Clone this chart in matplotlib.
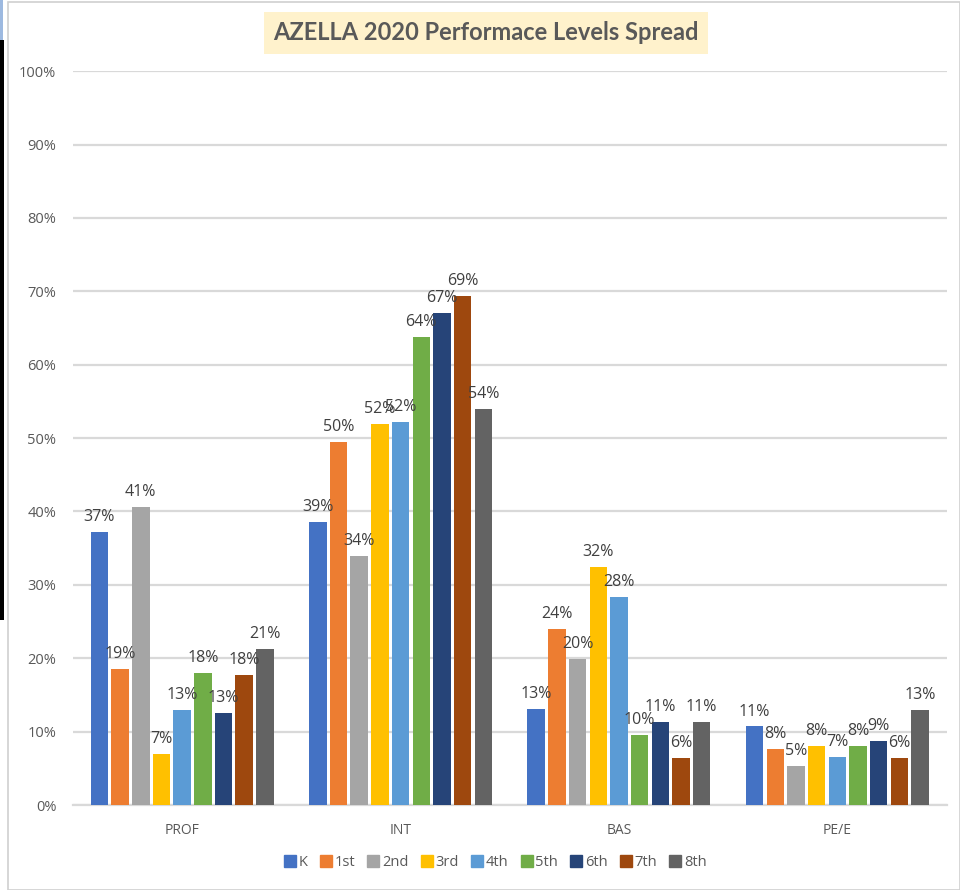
import matplotlib
matplotlib.use("Agg")
import matplotlib.pyplot as plt
import numpy as np
from matplotlib.patches import Rectangle
from matplotlib.lines import Line2D

# ---------------------------------------------------------------------------
# data
levels = ["PROF", "INT", "BAS", "PE/E"]
grades = ["K", "1st", "2nd", "3rd", "4th", "5th", "6th", "7th", "8th"]

k_vals = [0.372, 0.386, 0.131, 0.107]
g1_vals = [0.186, 0.495, 0.240, 0.076]
g2_vals = [0.406, 0.339, 0.199, 0.053]
g3_vals = [0.069, 0.519, 0.325, 0.081]
g4_vals = [0.129, 0.522, 0.284, 0.066]
g5_vals = [0.180, 0.638, 0.096, 0.081]
g6_vals = [0.126, 0.671, 0.113, 0.087]
g7_vals = [0.177, 0.694, 0.064, 0.064]
g8_vals = [0.213, 0.540, 0.113, 0.130]

series = [k_vals, g1_vals, g2_vals, g3_vals, g4_vals,
          g5_vals, g6_vals, g7_vals, g8_vals]

colors = ["#4472C4", "#ED7D31", "#A5A5A5", "#FFC000", "#5B9BD5",
          "#70AD47", "#264478", "#9E480E", "#636363"]

# ---------------------------------------------------------------------------
plt.rcParams["font.family"] = ["Open Sans", "DejaVu Sans"]
txt_col = "#595959"

fig = plt.figure(figsize=(9.6, 8.9), dpi=100)
ax = fig.add_axes([0.076, 0.0955, 0.910, 0.8245])

x = np.arange(len(levels))
step = 0.0947
width = 0.08

for i, (vals, col) in enumerate(zip(series, colors)):
    pos = x + (i - 4) * step
    ax.bar(pos, vals, width=width, color=col, zorder=3)
    for px, v in zip(pos, vals):
        ax.annotate("{:.0f}%".format(round(v * 100)), (px, v),
                    xytext=(0, 5), textcoords="offset points",
                    ha="center", va="bottom", fontsize=11.5,
                    color="#404040", zorder=4)

ax.set_xlim(-0.5, 3.5)
ax.set_ylim(0, 1.0)
ticks = np.arange(0, 1.01, 0.1)
ax.set_yticks(ticks)
ax.set_yticklabels(["{:d}%".format(int(round(t * 100))) for t in ticks])
ax.set_xticks(x)
ax.set_xticklabels(levels)
ax.tick_params(axis="both", length=0, labelcolor=txt_col)
ax.tick_params(axis="y", pad=12, labelsize=10.5)
ax.tick_params(axis="x", pad=13, labelsize=10)
ax.grid(axis="y", color="#d9d9d9", linewidth=1.6, zorder=0)
for s in ["top", "right", "left"]:
    ax.spines[s].set_visible(False)
ax.spines["bottom"].set_color("#d9d9d9")
ax.spines["bottom"].set_linewidth(1.6)

# title with pale yellow box
fig.text(0.506, 0.963, "AZELLA 2020 Performace Levels Spread",
         ha="center", va="center", fontsize=17, fontweight="bold",
         color=txt_col, family=["Lato", "DejaVu Sans"],
         bbox=dict(boxstyle="square,pad=0.4", facecolor="#FFF2CC",
                   edgecolor="none"))

# legend
handles = [Line2D([], [], marker="s", linestyle="none", markersize=8,
                  markerfacecolor=c, markeredgecolor=c) for c in colors]
fig.legend(handles, grades, loc="center", bbox_to_anchor=(0.516, 0.031),
           ncol=9, frameon=False, fontsize=10.5, labelcolor=txt_col,
           handlelength=0.8, handletextpad=0.2, columnspacing=0.85)

# screenshot frame bits on the left and top
fig.add_artist(Rectangle((8 / 960, 0), 1 - 8 / 960, 1 - 2 / 890,
                         transform=fig.transFigure, fill=False,
                         edgecolor="#d0d0d0", linewidth=1.2))
fig.add_artist(Rectangle((0, 1 - 620 / 890), 4 / 960, 580 / 890,
                         transform=fig.transFigure, facecolor="black",
                         edgecolor="none"))
fig.add_artist(Rectangle((0, 1 - 40 / 890), 3 / 960, 40 / 890,
                         transform=fig.transFigure, facecolor="#9DB9E0",
                         edgecolor="none"))

fig.savefig("out.png", dpi=100)
